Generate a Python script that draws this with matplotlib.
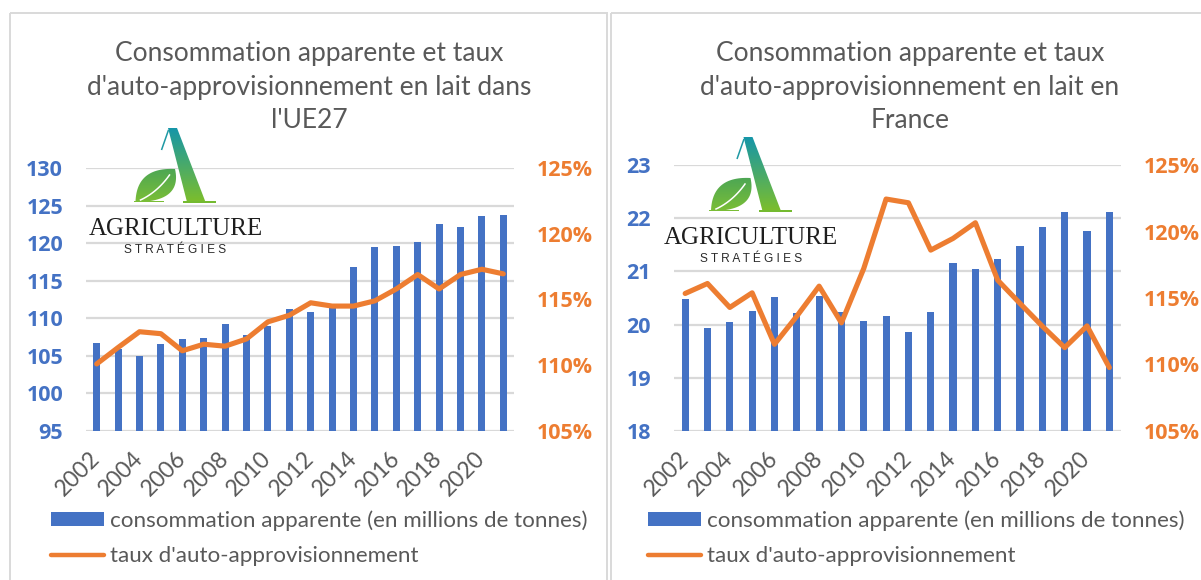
import numpy as np
import matplotlib
matplotlib.use("Agg")
import matplotlib.pyplot as plt
from matplotlib.patches import Patch, Rectangle, Polygon
from matplotlib.lines import Line2D

# ---------------- data ----------------
years = list(range(2002, 2022))
year_labels = [str(y) for y in years]

eu_consumption = [106.7, 105.9, 105.0, 106.6, 107.2, 107.4, 109.2, 107.8, 109.0, 111.2,
                  110.8, 111.4, 116.8, 119.5, 119.6, 120.2, 122.5, 122.1, 123.6, 123.7]
eu_rate = [110.1, 111.35, 112.55, 112.4, 111.1, 111.6, 111.45, 112.0, 113.3, 113.8,
           114.75, 114.5, 114.5, 114.9, 115.8, 116.9, 115.8, 116.9, 117.3, 116.95]

fr_consumption = [20.48, 19.93, 20.05, 20.26, 20.51, 20.22, 20.53, 20.23, 20.06, 20.17,
                  19.86, 20.24, 21.15, 21.05, 21.24, 21.47, 21.83, 22.11, 21.76, 22.11]
fr_rate = [115.34, 116.09, 114.29, 115.39, 111.52, 113.63, 115.89, 113.13, 117.22, 122.44,
           122.16, 118.6, 119.48, 120.66, 116.34, 114.59, 112.88, 111.27, 112.9, 109.77]

eu_ticks = [95, 100, 105, 110, 115, 120, 125, 130]
fr_ticks = [18, 19, 20, 21, 22, 23]
rate_ticks = [105, 110, 115, 120, 125]

title_eu = ["Consommation apparente et taux",
            "d'auto-approvisionnement en lait dans", "l'UE27"]
title_fr = ["Consommation apparente et taux",
            "d'auto-approvisionnement en lait en", "France"]
legend_labels = ["consommation apparente (en millions de tonnes)",
                 "taux d'auto-approvisionnement"]

# ---------------- style ----------------
BLUE = "#4472C4"
ORANGE = "#ED7D31"
TEXT = "#595959"
GRID = "#D9D9D9"
FONT = "Lato"
BOLD_FONT = ["Open Sans", "Liberation Sans", "DejaVu Sans"]
plt.rcParams["font.family"] = [FONT, "DejaVu Sans"]

W, H = 1201, 580
fig = plt.figure(figsize=(W / 100, H / 100), dpi=100)
fig.patch.set_facecolor("white")


def px_axes(x0, x1, ytop, ybot):
    return fig.add_axes([x0 / W, 1 - ybot / H, (x1 - x0) / W, (ybot - ytop) / H])


def draw_panel(box, cons, rate, yticks):
    x0, x1, ytop, ybot = box
    ax = px_axes(x0, x1, ytop, ybot)
    idx = np.arange(len(years))
    ax.bar(idx, cons, width=0.32, color=BLUE, zorder=2)
    ax.set_xlim(-0.5, len(years) - 0.5)
    ax.set_ylim(yticks[0], yticks[-1])
    ax.set_yticks(yticks, [str(t) for t in yticks], fontweight="bold",
                  fontfamily=BOLD_FONT, fontsize=15.5, color=BLUE)
    ax.grid(axis="y", color=GRID, lw=1.6, zorder=0)
    ax.set_axisbelow(True)
    for s in ax.spines.values():
        s.set_visible(False)
    ax.set_xticks(idx[::2])
    ax.set_xticklabels(year_labels[::2], rotation=45, ha="right", va="center",
                       rotation_mode="anchor", fontsize=16.5, color=TEXT)
    ax.tick_params(axis="x", length=0, pad=17)
    ax.tick_params(axis="y", length=0, pad=16.5)

    ax2 = ax.twinx()
    ax2.plot(idx, rate, color=ORANGE, lw=3.7, solid_joinstyle="round",
             solid_capstyle="round", zorder=3)
    ax2.set_ylim(rate_ticks[0], rate_ticks[-1])
    ax2.set_yticks(rate_ticks, [f"{t}%" for t in rate_ticks], fontweight="bold",
                   fontfamily=BOLD_FONT, fontsize=15.5, color=ORANGE)
    for s in ax2.spines.values():
        s.set_visible(False)
    ax2.tick_params(axis="y", length=0, pad=16.5)
    return ax


ax_eu = draw_panel((86, 514, 168, 431), eu_consumption, eu_rate, eu_ticks)
ax_fr = draw_panel((674, 1120.5, 165, 431), fr_consumption, fr_rate, fr_ticks)

# ---------------- overlay (frames, titles, logos) ----------------
ov = fig.add_axes([0, 0, 1, 1], zorder=10)
ov.set_xlim(0, W)
ov.set_ylim(H, 0)
ov.axis("off")
ov.patch.set_alpha(0)

ov.add_patch(Rectangle((9.5, 13), 597.5, 600, fill=False, ec=GRID, lw=1.4))
ov.add_patch(Rectangle((610.5, 13), 620, 600, fill=False, ec=GRID, lw=1.4))

for lines, cx in ((title_eu, 309), (title_fr, 910)):
    for i, s in enumerate(lines):
        ov.text(cx, 53 + 34 * i, s, ha="center", va="center", fontsize=19,
                color=TEXT)

# legends
for x in (51, 648):
    handles = [Patch(facecolor=BLUE, edgecolor="none"),
               Line2D([], [], color=ORANGE, lw=3.2, solid_capstyle="round")]
    fig.legend(handles, legend_labels, loc="upper left",
               bbox_to_anchor=(x / W, 1 - 510 / H), frameon=False,
               fontsize=16.1, labelcolor=TEXT, handlelength=2.35, handleheight=0.58,
               handletextpad=0.27, labelspacing=0.7, borderpad=0, borderaxespad=0)

# logo
TEAL = np.array([0x16, 0x96, 0xA8]) / 255
GREEN = np.array([0x7C, 0xBE, 0x2C]) / 255
LEAF_TOP = np.array([0x4C, 0xA6, 0x55]) / 255
LEAF_BOT = np.array([0x7C, 0xBF, 0x35]) / 255


def gradient_fill(verts, x0, x1, y0, y1, c_top, c_bot):
    poly = Polygon(verts, closed=True, fc="none", ec="none")
    ov.add_patch(poly)
    n = 64
    t = np.linspace(0, 1, n)[:, None, None]
    grad = c_top[None, None, :] * (1 - t) + c_bot[None, None, :] * t
    im = ov.imshow(grad, extent=(x0, x1, y1, y0), origin="upper", aspect="auto",
                   interpolation="bilinear", zorder=11)
    im.set_clip_path(poly)


def qbez(p0, c, p2, n=30):
    s = np.linspace(0, 1, n)
    return [((1 - u) ** 2 * p0[0] + 2 * u * (1 - u) * c[0] + u ** 2 * p2[0],
             (1 - u) ** 2 * p0[1] + 2 * u * (1 - u) * c[1] + u ** 2 * p2[1]) for u in s]


def draw_logo(cx, ay):
    # A thick leg
    leg = [(cx - 4.5, ay), (cx + 4.5, ay), (cx + 33, ay + 74), (cx + 14.5, ay + 74)]
    gradient_fill(leg, cx - 10, cx + 40, ay, ay + 74, TEAL, GREEN)
    # base serif
    ov.add_patch(Rectangle((cx + 10.5, ay + 72.8), 33, 2, color="#74BA30", zorder=12, lw=0))
    # thin left hairline
    ov.plot([cx - 4, cx - 11], [ay + 2, ay + 22], color="#1F99A4", lw=1.1,
            zorder=11, solid_capstyle="butt")
    # leaf (pointing up-right)
    base = (cx - 37, ay + 74)
    tip = (cx + 2.5, ay + 41)
    up = qbez(base, (cx - 36, ay + 39), tip)
    lo = qbez(tip, (cx + 10, ay + 74), base)
    gradient_fill(up + lo, cx - 40, cx + 5, ay + 40, ay + 75, LEAF_TOP, LEAF_BOT)
    vein = qbez((cx - 32, ay + 72), (cx - 15, ay + 64), (cx - 3, ay + 47))
    ov.plot([p[0] for p in vein], [p[1] for p in vein], color="white", lw=1.1, zorder=12)
    ov.add_patch(Rectangle((cx - 39, ay + 72.8), 30, 1.6, color="#7ABD36", zorder=11, lw=0))
    # text
    ov.text(cx + 3, ay + 101, "AGRICULTURE", ha="center", va="center",
            fontsize=18, family="Liberation Serif", color="#1E1E1E", zorder=12)
    ov.text(cx + 3, ay + 122, "S T R A T É G I E S", ha="center", va="center",
            fontsize=8.6, family="Liberation Sans", color="#2A2A2A", zorder=12)


draw_logo(172.5, 128)
draw_logo(748, 137)

fig.savefig("out.png", dpi=100, facecolor="white")
